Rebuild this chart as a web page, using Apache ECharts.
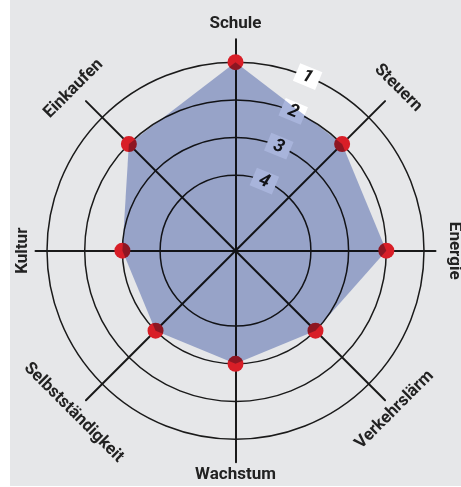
<!DOCTYPE html>
<html>
<head>
<meta charset="utf-8">
<script src="https://cdn.jsdelivr.net/npm/echarts@6/dist/echarts.min.js"></script>
<style>
  html, body { margin: 0; padding: 0; background: #fff; }
  #chart { position: absolute; left: 10px; top: 0; width: 451px; height: 486px; }
</style>
</head>
<body>
<div id="chart"></div>
<script>
// indicators go counter-clockwise from the top (that's how echarts radar lays them out)
const categories = ['Schule', 'Einkaufen', 'Kultur', 'Selbstständigkeit', 'Wachstum', 'Verkehrslärm', 'Energie', 'Steuern'];
// 1 = best (outer ring), 4 = inner ring
const ratings = [1, 2, 3, 3, 3, 3, 2, 2];
const rings = [1, 2, 3, 4];
const ringMin = 1;
const ringMax = 4;

const CENTER = [225.5, 250.7];
const R_OUTER = 188.5;   // ring 1
const R_INNER = 75.4;    // ring 4
const R_AXIS = 211.5;    // spoke length
const R_AXIS_H = 200;    // horizontal spokes are a bit shorter

// tangential name layout, per spoke
const nameRotate = [0, 45, 90, -45, 0, 45, -90, -45];
const nameGap = [7, 9, -7, 9, 4, 5, -1, 10];

const chart = echarts.init(document.getElementById('chart'));

const hidden = { show: false };
const isHorizontal = (i) => i === 2 || i === 6;

const option = {
  animation: false,
  backgroundColor: '#e6e7e9',
  radar: [
    {
      // data radar, inverted scale: rating 1 at the outer ring
      center: CENTER,
      radius: [R_OUTER, R_INNER],
      startAngle: 90,
      indicator: categories.map((name) => ({ name, min: ringMin, max: ringMax })),
      axisName: hidden,
      axisLine: hidden,
      splitLine: hidden,
      splitArea: hidden,
      z: 1
    },
    {
      // long spokes + names
      center: CENTER,
      radius: R_AXIS,
      startAngle: 90,
      indicator: categories.map((name, i) => ({
        name,
        min: 0,
        max: 1,
        nameRotate: nameRotate[i],
        nameGap: nameGap[i],
        axisLine: { show: !isHorizontal(i) }
      })),
      axisName: {
        color: '#222',
        fontFamily: 'Roboto',
        fontWeight: 'bold',
        fontSize: 17
      },
      axisLine: { lineStyle: { color: '#1a1a1a', width: 2 } },
      splitLine: hidden,
      splitArea: hidden,
      z: 1
    },
    {
      // horizontal spokes
      center: CENTER,
      radius: R_AXIS_H,
      startAngle: 90,
      indicator: categories.map((name, i) => ({
        name,
        min: 0,
        max: 1,
        axisLine: { show: isHorizontal(i) }
      })),
      axisName: hidden,
      axisLine: { lineStyle: { color: '#1a1a1a', width: 2 } },
      splitLine: hidden,
      splitArea: hidden,
      z: 1
    }
  ],
  polar: {
    center: CENTER,
    radius: [R_INNER, R_OUTER],
    z: 1
  },
  angleAxis: {
    type: 'value',
    min: 0,
    max: 360,
    startAngle: 67.5,
    axisLine: hidden,
    axisTick: hidden,
    axisLabel: hidden,
    splitLine: hidden
  },
  radiusAxis: {
    type: 'value',
    inverse: true,
    min: ringMin,
    max: ringMax,
    interval: 1,
    axisLine: hidden,
    axisTick: hidden,
    splitLine: { show: true, lineStyle: { color: '#1a1a1a', width: 1.5 } },
    axisLabel: {
      show: true,
      rotate: -22.5,
      margin: 0,
      align: 'center',
      verticalAlign: 'middle',
      formatter: (v) => rings.indexOf(v) >= 0 ? '{b|' + v + '}' : '',
      rich: {
        b: {
          backgroundColor: '#fff',
          padding: [1, 7, 0, 7],
          lineHeight: 18,
          fontSize: 18,
          fontStyle: 'italic',
          fontWeight: 'bold',
          fontFamily: 'Roboto',
          color: '#1a1a1a'
        }
      }
    }
  },
  series: [
    {
      // red markers, below the multiplied area
      type: 'radar',
      radarIndex: 0,
      z: 5,
      silent: true,
      symbol: 'circle',
      symbolSize: 16,
      itemStyle: { color: '#d81e27' },
      lineStyle: { opacity: 0 },
      data: [{ value: ratings }]
    },
    {
      type: 'radar',
      radarIndex: 0,
      z: 10,
      silent: true,
      symbol: 'none',
      blendMode: 'multiply',
      lineStyle: { width: 0, opacity: 0 },
      areaStyle: { color: '#a8b4db', opacity: 1 },
      data: [{ value: ratings }]
    }
  ]
};

chart.setOption(option);
</script>
</body>
</html>
